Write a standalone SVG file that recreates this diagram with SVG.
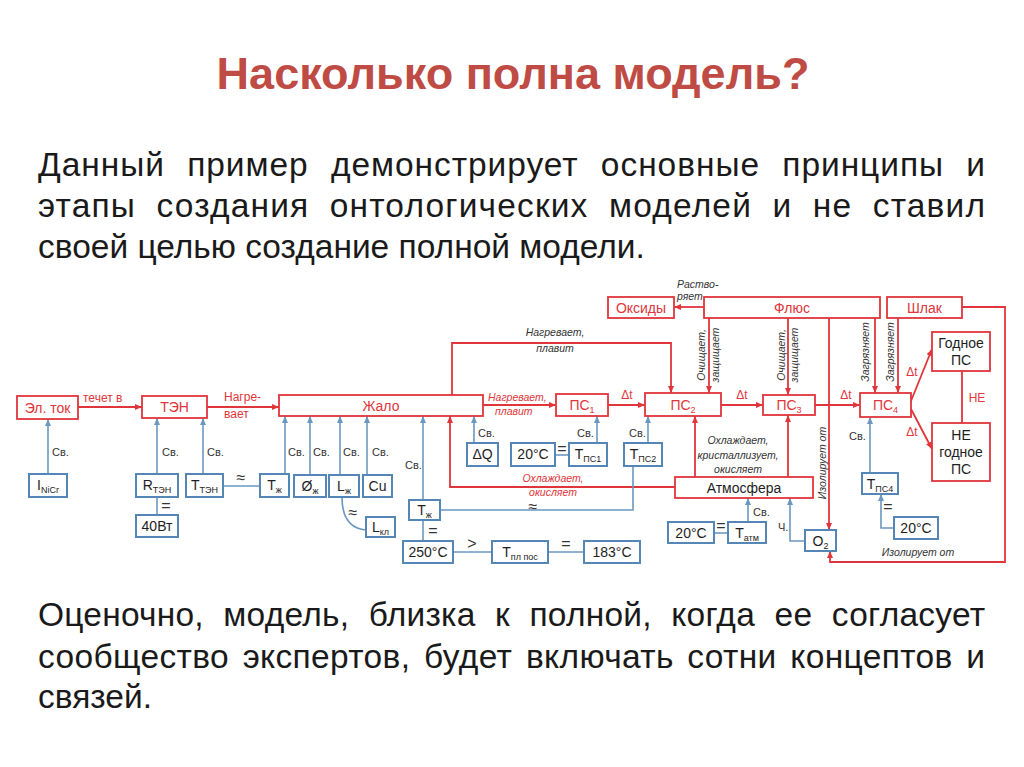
<svg xmlns="http://www.w3.org/2000/svg" width="1024" height="767" viewBox="0 0 1024 767">
<defs>
<style>
text{font-family:"Liberation Sans","DejaVu Sans",sans-serif}
.title{font-size:45px;font-weight:bold;fill:#bf4b45;text-anchor:middle}
.body{font-size:33.5px;fill:#1a1a1a}
.rb{fill:#fff;stroke:#e0353b;stroke-width:1.8}
.bb{fill:#fff;stroke:#5487b5;stroke-width:2}
.rt{font-size:14px;fill:#e0353b;text-anchor:middle}
.dt{font-size:14px;fill:#1e1e1e;text-anchor:middle}
.sub{font-size:9px}
.rl{fill:none;stroke:#e0353b;stroke-width:1.8}
.rla{fill:none;stroke:#e0353b;stroke-width:1.8;marker-end:url(#ra)}
.bl{fill:none;stroke:#6a98c0;stroke-width:1.6}
.bla{fill:none;stroke:#6a98c0;stroke-width:1.6;marker-end:url(#ba)}
.lb{font-size:11px;fill:#333}
.sym{font-size:16px;fill:#333;text-anchor:middle}
.il{font-size:10.5px;font-style:italic;fill:#333}
.ir{font-size:10.5px;font-style:italic;fill:#e0353b}
.rs{font-size:12px;fill:#e0353b}
</style>
<marker id="ra" markerWidth="8" markerHeight="8" refX="7" refY="4" orient="auto" markerUnits="userSpaceOnUse"><path d="M0,1 L7,4 L0,7 z" fill="#e0353b"/></marker>
<marker id="ba" markerWidth="8" markerHeight="8" refX="7" refY="4" orient="auto" markerUnits="userSpaceOnUse"><path d="M0,1 L7,4 L0,7 z" fill="#6a98c0"/></marker>
</defs>
<rect width="1024" height="767" fill="#fff"/>
<text class="title" x="513" y="89">Насколько полна модель?</text>
<g id="para1">
<text class="body" x="38" y="176" textLength="947" lengthAdjust="spacing" word-spacing="12">Данный пример демонстрирует основные принципы и</text>
<text class="body" x="38" y="217" textLength="947" lengthAdjust="spacing" word-spacing="10">этапы создания онтологических моделей и не ставил</text>
<text class="body" x="38" y="258">своей целью создание полной модели.</text>
</g>
<g id="para2">
<text class="body" x="38" y="626" textLength="947" lengthAdjust="spacing" word-spacing="10">Оценочно, модель, близка к полной, когда ее согласует</text>
<text class="body" x="38" y="668" textLength="947" lengthAdjust="spacing" word-spacing="4">сообщество экспертов, будет включать сотни концептов и</text>
<text class="body" x="38" y="708">связей.</text>
</g>

<g id="connectors">
<path class="rla" d="M78,407 H142"/>
<text class="rs" x="83" y="402">течет в</text>
<path class="rla" d="M207,407 H279"/>
<text class="rs" x="224" y="401">Нагре-</text>
<text class="rs" x="224" y="418">вает</text>
<path class="rla" d="M483,405 H556"/>
<text class="ir" x="488" y="401">Нагревает,</text>
<text class="ir" x="495" y="415">плавит</text>
<path class="rla" d="M452,395 V343 H671 V393"/>
<text class="il" x="555" y="336" text-anchor="middle">Нагревает,</text>
<text class="il" x="555" y="352" text-anchor="middle">плавит</text>
<path class="rla" d="M608,405 H645"/>
<text class="rs" x="627" y="399" text-anchor="middle" font-size="13">Δt</text>
<path class="rla" d="M721,405 H763"/>
<text class="rs" x="742" y="399" text-anchor="middle" font-size="13">Δt</text>
<path class="rla" d="M815,405 H860"/>
<text class="rs" x="846" y="399" text-anchor="middle" font-size="13">Δt</text>
<path class="rla" d="M911,401 L932,349"/>
<text class="rs" x="912" y="376" text-anchor="middle" font-size="13">Δt</text>
<path class="rla" d="M911,409 L932,449"/>
<text class="rs" x="912" y="436" text-anchor="middle" font-size="13">Δt</text>
<path class="rl" d="M962,371 V423"/>
<text class="rs" x="977" y="402" text-anchor="middle" font-size="13">НЕ</text>
<path class="rla" d="M704,307 H674"/>
<text class="il" x="677" y="288">Раство-</text>
<text class="il" x="677" y="300">ряет</text>
<path class="rla" d="M709,318 V393"/>
<text class="il" transform="translate(705,355) rotate(-90)" text-anchor="middle">Очищает,</text>
<text class="il" transform="translate(719,355) rotate(-90)" text-anchor="middle">защищает</text>
<path class="rla" d="M788,318 V395"/>
<text class="il" transform="translate(785,355) rotate(-90)" text-anchor="middle">Очищает,</text>
<text class="il" transform="translate(798,355) rotate(-90)" text-anchor="middle">защищает</text>
<path class="rla" d="M875,318 V393"/>
<text class="il" transform="translate(869,352) rotate(-90)" text-anchor="middle">Загрязняет</text>
<path class="rla" d="M898,318 V393"/>
<text class="il" transform="translate(894,352) rotate(-90)" text-anchor="middle">Загрязняет</text>
<path class="rla" d="M829,318 V530"/>
<text class="il" transform="translate(826,463) rotate(-90)" text-anchor="middle">Изолирует от</text>
<path class="rla" d="M962,307 H1005 V562 H830 V551"/>
<text class="il" x="918" y="556" text-anchor="middle">Изолирует от</text>
<path class="rla" d="M695,477 V416"/>
<path class="rla" d="M788,477 V415"/>
<text class="il" x="738" y="444" text-anchor="middle">Охлаждает,</text>
<text class="il" x="738" y="459" text-anchor="middle">кристаллизует,</text>
<text class="il" x="738" y="473" text-anchor="middle">окисляет</text>
<path class="rla" d="M675,487 H450 V416"/>
<text class="ir" x="553" y="482" text-anchor="middle">Охлаждает,</text>
<text class="ir" x="553" y="496" text-anchor="middle">окисляет</text>

<path class="bla" d="M48,474 V419"/>
<text class="lb" x="52" y="456">Св.</text>
<path class="bla" d="M157,474 V418"/>
<text class="lb" x="162" y="456">Св.</text>
<path class="bla" d="M203,474 V418"/>
<text class="lb" x="207" y="456">Св.</text>
<path class="bl" d="M157,497 V515"/>
<text class="sym" x="166" y="511" font-size="14">=</text>
<path class="bl" d="M223,486 H260"/>
<text class="sym" x="241" y="483">≈</text>
<path class="bla" d="M285,474 V416"/>
<text class="lb" x="288" y="456">Св.</text>
<path class="bla" d="M310,475 V416"/>
<text class="lb" x="313" y="456">Св.</text>
<path class="bla" d="M340,475 V416"/>
<text class="lb" x="343" y="456">Св.</text>
<path class="bla" d="M367,475 V416"/>
<text class="lb" x="372" y="456">Св.</text>
<path class="bla" d="M423,500 V416"/>
<text class="lb" x="405" y="469">Св.</text>
<path class="bl" d="M342,497 Q342,528 366,530"/>
<text class="sym" x="353" y="518">≈</text>
<path class="bl" d="M423,520 V541"/>
<text class="sym" x="433" y="536" font-size="14">=</text>
<path class="bl" d="M440,510 H633 V466"/>
<text class="sym" x="533" y="512">≈</text>
<path class="bl" d="M453,552 H492"/>
<text class="sym" x="472" y="549" font-size="14">&gt;</text>
<path class="bl" d="M548,552 H584"/>
<text class="sym" x="566" y="549" font-size="14">=</text>
<path class="bla" d="M474,443 V416"/>
<text class="lb" x="478" y="437">Св.</text>
<path class="bl" d="M555,455 H569"/>
<text class="sym" x="562" y="454" font-size="13">=</text>
<path class="bla" d="M597,443 V416"/>
<text class="lb" x="577" y="437">Св.</text>
<path class="bla" d="M648,443 V416"/>
<text class="lb" x="629" y="437">Св.</text>
<path class="bla" d="M748,522 V498"/>
<text class="lb" x="753" y="516">Св.</text>
<path class="bl" d="M714,533 H728"/>
<text class="sym" x="721" y="531" font-size="13">=</text>
<path class="bla" d="M805,541 H790 V498"/>
<text class="lb" x="778" y="531">Ч.</text>
<path class="bla" d="M870,473 V417"/>
<text class="lb" x="849" y="440">Св.</text>
<path class="bla" d="M894,528 H881 V494"/>
<text class="sym" x="888" y="512" font-size="13">=</text>
</g>

<g id="n-eltok"><rect class="rb" x="17" y="396" width="61" height="23"/><text class="rt" x="47.5" y="412.5">Эл. ток</text></g>
<g id="n-ten"><rect class="rb" x="142" y="396" width="65" height="22"/><text class="rt" x="174.5" y="412">ТЭН</text></g>
<g id="n-zhalo"><rect class="rb" x="279" y="395" width="204" height="21"/><text class="rt" x="381" y="410.5">Жало</text></g>
<g id="n-ps1"><rect class="rb" x="556" y="394" width="52" height="22"/><text class="rt" x="582" y="410">ПС<tspan class="sub" dy="3">1</tspan></text></g>
<g id="n-ps2"><rect class="rb" x="645" y="393" width="76" height="23"/><text class="rt" x="683" y="410">ПС<tspan class="sub" dy="3">2</tspan></text></g>
<g id="n-ps3"><rect class="rb" x="763" y="395" width="52" height="20"/><text class="rt" x="789" y="410">ПС<tspan class="sub" dy="3">3</tspan></text></g>
<g id="n-ps4"><rect class="rb" x="860" y="393" width="51" height="24"/><text class="rt" x="885.5" y="410">ПС<tspan class="sub" dy="3">4</tspan></text></g>
<g id="n-oksidy"><rect class="rb" x="608" y="297" width="66" height="21"/><text class="rt" x="641" y="312.5">Оксиды</text></g>
<g id="n-flux"><rect class="rb" x="704" y="297" width="176" height="21"/><text class="rt" x="792" y="312.5">Флюс</text></g>
<g id="n-shlak"><rect class="rb" x="887" y="297" width="75" height="21"/><text class="rt" x="924.5" y="312.5">Шлак</text></g>
<g id="n-godnoe"><rect class="rb" x="932" y="332" width="58" height="39"/><text class="dt" x="961" y="348" font-size="13">Годное</text><text class="dt" x="961" y="365" font-size="13">ПС</text></g>
<g id="n-negodnoe"><rect class="rb" x="932" y="423" width="58" height="58"/><text class="dt" x="961" y="440" font-size="13">НЕ</text><text class="dt" x="961" y="457" font-size="13">годное</text><text class="dt" x="961" y="474" font-size="13">ПС</text></g>
<g id="n-atm"><rect class="rb" x="675" y="477" width="138" height="21"/><text class="dt" x="744" y="492.5">Атмосфера</text></g>

<g id="n-inicr"><rect class="bb" x="29" y="474" width="38" height="23"/><text class="dt" x="48" y="490">I<tspan class="sub" dy="3">NiCr</tspan></text></g>
<g id="n-rten"><rect class="bb" x="136" y="474" width="42" height="23"/><text class="dt" x="157" y="490">R<tspan class="sub" dy="3">ТЭН</tspan></text></g>
<g id="n-40w"><rect class="bb" x="136" y="515" width="42" height="22"/><text class="dt" x="157" y="531">40Вт</text></g>
<g id="n-tten"><rect class="bb" x="186" y="474" width="37" height="23"/><text class="dt" x="204.5" y="490">T<tspan class="sub" dy="3">ТЭН</tspan></text></g>
<g id="n-tzh1"><rect class="bb" x="260" y="474" width="29" height="23"/><text class="dt" x="274.5" y="490">T<tspan class="sub" dy="3">ж</tspan></text></g>
<g id="n-dzh"><rect class="bb" x="294" y="475" width="32" height="22"/><text class="dt" x="310" y="491">Ø<tspan class="sub" dy="3">ж</tspan></text></g>
<g id="n-lzh"><rect class="bb" x="329" y="475" width="30" height="22"/><text class="dt" x="344" y="491">L<tspan class="sub" dy="3">ж</tspan></text></g>
<g id="n-cu"><rect class="bb" x="363" y="475" width="29" height="22"/><text class="dt" x="377.5" y="491">Cu</text></g>
<g id="n-lkl"><rect class="bb" x="366" y="517" width="29" height="20"/><text class="dt" x="380.5" y="532">L<tspan class="sub" dy="3">кл</tspan></text></g>
<g id="n-tzh2"><rect class="bb" x="409" y="500" width="31" height="20"/><text class="dt" x="424.5" y="515">T<tspan class="sub" dy="3">ж</tspan></text></g>
<g id="n-250"><rect class="bb" x="403" y="541" width="50" height="22"/><text class="dt" x="428" y="557">250°C</text></g>
<g id="n-tpl"><rect class="bb" x="492" y="541" width="56" height="22"/><text class="dt" x="520" y="557">T<tspan class="sub" dy="3">пл пос</tspan></text></g>
<g id="n-183"><rect class="bb" x="584" y="541" width="56" height="22"/><text class="dt" x="612" y="557">183°C</text></g>
<g id="n-dq"><rect class="bb" x="467" y="443" width="31" height="23"/><text class="dt" x="482.5" y="459">ΔQ</text></g>
<g id="n-20a"><rect class="bb" x="511" y="443" width="44" height="23"/><text class="dt" x="533" y="459">20°C</text></g>
<g id="n-tps1"><rect class="bb" x="569" y="443" width="38" height="23"/><text class="dt" x="588" y="459">T<tspan class="sub" dy="3">ПС1</tspan></text></g>
<g id="n-tps2"><rect class="bb" x="624" y="443" width="38" height="23"/><text class="dt" x="643" y="459">T<tspan class="sub" dy="3">ПС2</tspan></text></g>
<g id="n-20atm"><rect class="bb" x="668" y="522" width="46" height="21"/><text class="dt" x="691" y="538">20°C</text></g>
<g id="n-tatm"><rect class="bb" x="728" y="522" width="38" height="21"/><text class="dt" x="747" y="538">T<tspan class="sub" dy="3">атм</tspan></text></g>
<g id="n-o2"><rect class="bb" x="805" y="530" width="31" height="21"/><text class="dt" x="820.5" y="546">O<tspan class="sub" dy="3">2</tspan></text></g>
<g id="n-tps4"><rect class="bb" x="862" y="473" width="36" height="21"/><text class="dt" x="880" y="489">T<tspan class="sub" dy="3">ПС4</tspan></text></g>
<g id="n-20b"><rect class="bb" x="894" y="517" width="44" height="22"/><text class="dt" x="916" y="533">20°C</text></g>
</svg>
